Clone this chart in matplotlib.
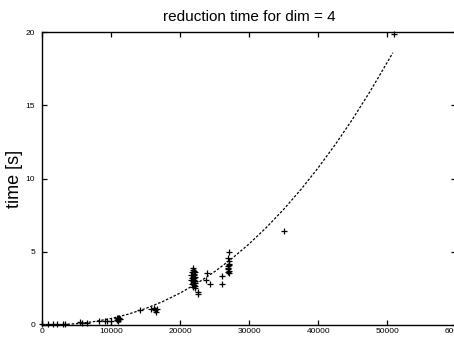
import numpy as np
import matplotlib
matplotlib.use('Agg')
import matplotlib.pyplot as plt

plt.rcParams['font.family'] = ['Liberation Sans', 'DejaVu Sans']

# measured reduction times (lattice size, seconds)
size_vals = [0, 870, 1600, 2180, 3050, 3300, 5470, 5850, 6530, 8280, 9100, 9480, 9970,
             10800, 10900, 10950, 11000, 11050, 11100, 11150, 11200, 11300,
             14230, 15780, 16160, 16400, 16550, 16650,
             21600, 21650, 21700, 21750, 21800, 21800, 21850, 21900, 21900, 21950,
             22000, 22000, 22050, 22100, 22100, 22150, 22200, 22200, 21700, 21900,
             22000, 22100, 21800, 22050, 22550, 22550,
             23810, 23900, 24290, 26090, 26090,
             26950, 27000, 27000, 27050, 27050, 27100, 27000, 26950, 27050, 27100, 27050,
             35030, 51000]
time_vals = [0.05, 0.05, 0.05, 0.05, 0.07, 0.07, 0.18, 0.16, 0.16, 0.29, 0.27, 0.27, 0.27,
             0.35, 0.45, 0.30, 0.50, 0.40, 0.39, 0.48, 0.42, 0.38,
             1.02, 1.07, 1.14, 1.02, 0.87, 1.07,
             3.10, 3.40, 2.80, 3.60, 3.00, 2.60, 3.30, 3.91, 2.90, 3.50,
             3.20, 2.70, 3.70, 3.00, 2.50, 3.30, 3.60, 2.85, 3.20, 3.10,
             3.45, 2.65, 3.75, 3.05, 2.27, 2.10,
             3.07, 3.53, 2.78, 3.34, 2.80,
             3.60, 3.80, 4.00, 4.20, 3.55, 4.40, 4.57, 3.90, 3.70, 4.10, 5.00,
             6.44, 19.9]

# fitted curve
fit_x = [0, 2500, 5000, 7500, 10000, 12500, 15000, 17500, 20000, 22500, 25000,
         27500, 30000, 32500, 35000, 37500, 40000, 42500, 45000, 47500, 50000, 50800]
fit_y = [0.0, 0.018, 0.090, 0.229, 0.443, 0.740, 1.126, 1.605, 2.181, 2.861, 3.645,
         4.538, 5.544, 6.666, 7.903, 9.262, 10.745, 12.351, 14.086, 15.952, 17.950, 18.60]

x_ticks = [0, 10000, 20000, 30000, 40000, 50000, 60000]
y_ticks = [0, 5, 10, 15, 20]

fig = plt.figure(figsize=(4.54, 3.39), dpi=100)
ax = fig.add_axes([0.0925, 0.0413, 0.9126, 0.8634])

ax.plot(fit_x, fit_y, color='black', lw=0.9, ls=(0, (2, 1.4)))
ax.plot(size_vals, time_vals, ls='none', marker='+', ms=5, mew=0.9, color='black',
        clip_on=False)

ax.set_xlim(0, 60000)
ax.set_ylim(0, 20)
ax.set_xticks(x_ticks)
ax.set_yticks(y_ticks)
ax.tick_params(direction='in', length=3.3, width=0.9, top=True, right=True,
               labelsize=6)
ax.tick_params(axis='y', pad=5)
ax.tick_params(axis='x', pad=2)
for s in ax.spines.values():
    s.set_linewidth(1.0)

ax.set_title('reduction time for dim = 4', fontsize=11, pad=8)
ax.set_ylabel('time [s]', fontsize=13, labelpad=2)

fig.savefig('out.png', dpi=100)
